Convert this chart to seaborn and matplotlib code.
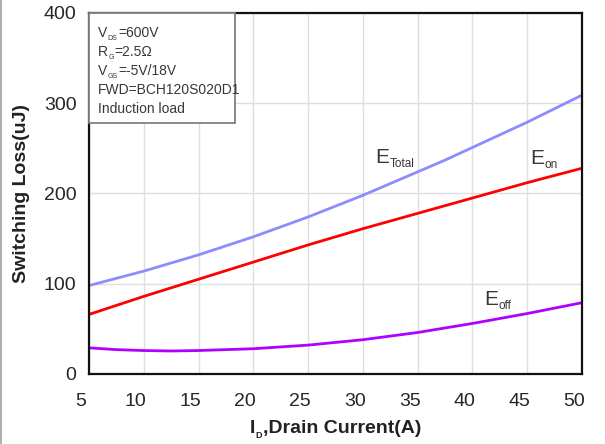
import numpy as np
import pandas as pd
import matplotlib
matplotlib.use("Agg")
import matplotlib.pyplot as plt
import matplotlib.transforms as mtransforms
from matplotlib.lines import Line2D
from matplotlib.patches import Rectangle
import seaborn as sns

# Drain current (A) and switching energies (uJ)
current = [5, 7.5, 10, 12.5, 15, 17.5, 20, 22.5, 25, 27.5, 30,
           32.5, 35, 37.5, 40, 42.5, 45, 47.5, 50]
e_total = [98, 106, 114, 123, 132, 142, 152, 163, 174, 186, 198,
           211, 224, 237, 251, 265, 279, 294, 309]
e_on = [66, 76, 86, 95.5, 105, 114.5, 124, 133.5, 143, 152, 161,
        169.5, 178, 186.5, 195, 203.5, 212, 220, 228]
e_off = [29, 27, 26, 25.5, 26, 27, 28, 30, 32, 35, 38,
         42, 46, 51, 56, 61.5, 67, 73, 79]

x_ticks = [5, 10, 15, 20, 25, 30, 35, 40, 45, 50]
y_ticks = [0, 100, 200, 300, 400]

conditions = [("V", "DS", "=600V"),
              ("R", "G", "=2.5Ω"),
              ("V", "GS", "=-5V/18V"),
              ("FWD=BCH120S020D1", "", ""),
              ("Induction load", "", "")]

sns.set_theme(style="white")
plt.rcParams["font.family"] = ["Liberation Sans", "DejaVu Sans"]

fig = plt.figure(figsize=(6.05, 4.44), dpi=100)
ax = fig.add_axes([89 / 605, 1 - 374 / 444, 493 / 605, 361 / 444])

df = pd.DataFrame({"current": current, "Total": e_total,
                   "on": e_on, "off": e_off})
for col, color in [("Total", "#8c8cff"), ("on", "#ff0000"), ("off", "#b000ff")]:
    sns.lineplot(data=df, x="current", y=col, ax=ax, color=color,
                 linewidth=2.0, legend=False)

ax.set_xlim(5, 50)
ax.set_ylim(0, 400)
ax.set_xticks(x_ticks)
ax.set_yticks(y_ticks)
ax.set_xticklabels([str(v) for v in x_ticks])
ax.set_yticklabels([str(v) for v in y_ticks])
ax.grid(True, color="#dedede", linewidth=1.0)
ax.set_axisbelow(True)
ax.tick_params(axis="both", length=0, labelsize=14, colors="#262626")
ax.tick_params(axis="x", pad=14)
ax.tick_params(axis="y", pad=9)
for lab in ax.get_xticklabels():
    lab.set_transform(lab.get_transform() +
                      mtransforms.ScaledTranslation(-8 / 100, 0, fig.dpi_scale_trans))
for sp in ax.spines.values():
    sp.set_color("#111111")
    sp.set_linewidth(1.6)

ax.set_xlabel("")
ax.set_ylabel("Switching Loss(uJ)", fontsize=14, fontweight="bold",
              color="#222222", labelpad=10)

# x-axis label with subscript D
fig.text(0, 0, "I", fontsize=14, fontweight="bold", color="#222222",
         va="baseline", ha="left",
         transform=mtransforms.offset_copy(fig.transFigure, fig=fig, x=250, y=11, units="dots"))
fig.text(0, 0, "D", fontsize=6.5, fontweight="bold", color="#222222",
         va="baseline", ha="left",
         transform=mtransforms.offset_copy(fig.transFigure, fig=fig, x=255, y=6, units="dots"))
fig.text(0, 0, ",Drain Current(A)", fontsize=14, fontweight="bold", color="#222222",
         va="baseline", ha="left",
         transform=mtransforms.offset_copy(fig.transFigure, fig=fig, x=263, y=11, units="dots"))


def sub_label(x, y, main, sub, rest, size, subsize, drop, coords):
    t = ax.text(x, y, main, fontsize=size, va="baseline", ha="left",
                color="#383838", transform=coords, zorder=6)
    if not sub:
        return
    s = ax.annotate(sub, xy=(1, 0), xycoords=t, xytext=(0.3, -drop),
                    textcoords="offset points", fontsize=subsize,
                    va="bottom", ha="left", color="#383838", zorder=6)
    if rest:
        ax.annotate(rest, xy=(1, 0), xycoords=(s, t), xytext=(0.3, 0),
                    textcoords="offset points", fontsize=size,
                    va="bottom", ha="left", color="#383838", zorder=6)


# curve names
sub_label(31.1, 234, "E", "Total", "", 15, 8.5, 2.5, ax.transData)
sub_label(45.3, 233, "E", "on", "", 15, 8.5, 2.5, ax.transData)
sub_label(41.1, 76.5, "E", "off", "", 15, 8.5, 2.5, ax.transData)

# test-condition box in upper-left corner
box = Rectangle((0, 1 - 110 / 361), 146 / 493, 110 / 361, transform=ax.transAxes,
                facecolor="white", edgecolor="#808080", linewidth=1.3, zorder=5,
                clip_on=False)
ax.add_patch(box)
baselines = [37, 56, 75, 94, 113]
for (main, sub, rest), py in zip(conditions, baselines):
    sub_label(9 / 493, (374 - py) / 361, main, sub, rest, 10, 5, 1.5, ax.transAxes)

# thin frame line along the left edge of the figure
fig.add_artist(Line2D([0.5 / 605, 0.5 / 605], [0, 1], transform=fig.transFigure,
                      color="#a0a0a0", linewidth=1.2))

fig.savefig("out.png", dpi=100)
